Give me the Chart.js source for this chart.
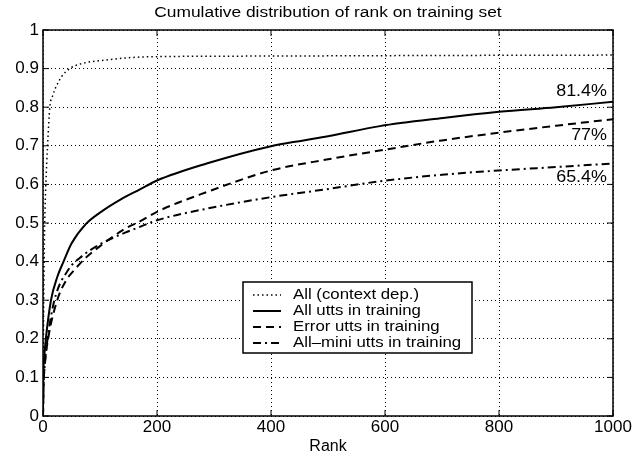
<!DOCTYPE html>
<html>
<head>
<meta charset="utf-8">
<script src="https://cdn.jsdelivr.net/npm/chart.js@4"></script>
<style>
  html, body { margin: 0; padding: 0; background: #fff; }
  #wrap { width: 644px; height: 452px; }
</style>
</head>
<body>
<div id="wrap"><canvas id="chartRank"></canvas></div>
<script>
// Data
const chartTitle = 'Cumulative distribution of rank on training set';
const xTicks = [0, 200, 400, 600, 800, 1000];
const yTicks = [0, 0.1, 0.2, 0.3, 0.4, 0.5, 0.6, 0.7, 0.8, 0.9, 1];

const seriesLabels = ['All (context dep.)', 'All utts in training', 'Error utts in training', 'All\u2013mini utts in training'];

const rankCtx = [0, 1, 2, 3, 5, 8, 12, 17, 22, 33, 47, 68, 103, 173, 300, 500, 700, 1000];
const cdfCtx  = [0, 0.25, 0.4, 0.5, 0.6, 0.7, 0.8, 0.83, 0.85, 0.88, 0.9, 0.913, 0.921, 0.93, 0.932, 0.933, 0.934, 0.935];

const rankAll = [0, 0.5, 2, 5, 14, 25, 36, 50, 75, 100, 135, 170, 200, 287, 400, 457, 500, 591, 702, 800, 900, 1000];
const cdfAll  = [0, 0.1, 0.15, 0.2, 0.3, 0.36, 0.4, 0.447, 0.497, 0.527, 0.56, 0.587, 0.61, 0.654, 0.699, 0.714, 0.725, 0.751, 0.772, 0.788, 0.8, 0.814];

const rankErr = [0, 1, 3, 9, 25, 40, 56, 75, 100, 144, 170, 200, 287, 400, 500, 600, 700, 800, 900, 1000];
const cdfErr  = [0, 0.08, 0.13, 0.2, 0.3, 0.35, 0.38, 0.41, 0.44, 0.485, 0.504, 0.529, 0.58, 0.636, 0.665, 0.69, 0.714, 0.734, 0.752, 0.769];

const rankMini = [0, 1, 3, 8, 20, 45, 65, 100, 144, 170, 200, 287, 400, 500, 591, 700, 800, 900, 1000];
const cdfMini  = [0, 0.08, 0.13, 0.2, 0.3, 0.38, 0.41, 0.445, 0.475, 0.49, 0.507, 0.537, 0.567, 0.588, 0.608, 0.625, 0.636, 0.645, 0.654];

const endLabels = ['81.4%', '77%', '65.4%'];
const endValues = [0.814, 0.769, 0.654];

const FONT = '"Liberation Sans", Arial, Helvetica, sans-serif';

function toPoints(xs, ys) {
    return xs.map((x, i) => ({ x: x, y: ys[i] }));
}

/**
 * Frame, inward ticks, title, end labels and legend box
 */
const decorPlugin = {
    id: 'decor',
    afterDraw(chart) {
        const ctx = chart.ctx;
        const area = chart.chartArea;
        const xs = chart.scales.x;
        const ys = chart.scales.y;
        const tick = 6;

        ctx.save();
        ctx.setLineDash([]);
        ctx.strokeStyle = '#000';
        ctx.lineWidth = 1.5;
        ctx.strokeRect(area.left, area.top, area.right - area.left, area.bottom - area.top);

        ctx.lineWidth = 1;
        ctx.beginPath();
        xTicks.forEach(v => {
            const px = xs.getPixelForValue(v);
            ctx.moveTo(px, area.bottom); ctx.lineTo(px, area.bottom - tick);
            ctx.moveTo(px, area.top); ctx.lineTo(px, area.top + tick);
        });
        yTicks.forEach(v => {
            const py = ys.getPixelForValue(v);
            ctx.moveTo(area.left, py); ctx.lineTo(area.left + tick, py);
            ctx.moveTo(area.right, py); ctx.lineTo(area.right - tick, py);
        });
        ctx.stroke();

        // text is a bit wider than tall in the reference
        const stretch = 1.12;
        const drawText = (txt, x, y, size, align) => {
            ctx.save();
            ctx.translate(x, y);
            ctx.scale(stretch, 1);
            ctx.font = `${size}px ${FONT}`;
            ctx.fillStyle = '#000';
            ctx.textAlign = align;
            ctx.textBaseline = 'middle';
            ctx.fillText(txt, 0, 0);
            ctx.restore();
        };

        drawText(chartTitle, (area.left + area.right) / 2, 13, 15.5, 'center');

        // labels at the end of each curve
        const endX = xs.getPixelForValue(1000) - 6;
        const offsets = [-10, 16, 14];
        endLabels.forEach((lbl, i) => {
            drawText(lbl, endX, ys.getPixelForValue(endValues[i]) + offsets[i], 16, 'right');
        });

        // legend
        const box = { left: 243, top: 282, width: 229, height: 71 };
        ctx.fillStyle = '#fff';
        ctx.fillRect(box.left, box.top, box.width, box.height);
        ctx.lineWidth = 1.5;
        ctx.strokeStyle = '#000';
        ctx.strokeRect(box.left, box.top, box.width, box.height);

        chart.data.datasets.forEach((ds, i) => {
            const cy = box.top + 13 + i * 16;
            ctx.save();
            ctx.strokeStyle = ds.borderColor;
            ctx.lineWidth = ds.borderWidth;
            ctx.setLineDash(ds.borderDash || []);
            ctx.beginPath();
            ctx.moveTo(box.left + 10, cy);
            ctx.lineTo(box.left + 38, cy);
            ctx.stroke();
            ctx.restore();
            drawText(ds.label, box.left + 50, cy, 15, 'left');
        });
        ctx.restore();
    }
};

const ctxCanvas = document.getElementById('chartRank').getContext('2d');
new Chart(ctxCanvas, {
    type: 'line',
    data: {
        datasets: [
            { label: seriesLabels[0], data: toPoints(rankCtx, cdfCtx), borderColor: '#000', borderWidth: 1.5, borderDash: [1.5, 3] },
            { label: seriesLabels[1], data: toPoints(rankAll, cdfAll), borderColor: '#000', borderWidth: 2 },
            { label: seriesLabels[2], data: toPoints(rankErr, cdfErr), borderColor: '#000', borderWidth: 2, borderDash: [8, 5] },
            { label: seriesLabels[3], data: toPoints(rankMini, cdfMini), borderColor: '#000', borderWidth: 2, borderDash: [8, 4, 2, 4] }
        ]
    },
    options: {
        responsive: true,
        maintainAspectRatio: false,
        animation: false,
        parsing: false,
        elements: { point: { radius: 0 }, line: { cubicInterpolationMode: 'monotone', fill: false } },
        layout: { padding: { left: 0, right: 31, top: 30, bottom: 0 } },
        plugins: {
            legend: { display: false },
            title: { display: false },
            tooltip: { enabled: false }
        },
        scales: {
            x: {
                type: 'linear',
                min: 0,
                max: 1000,
                afterBuildTicks: (scale) => { scale.ticks = xTicks.map(v => ({ value: v })); },
                afterFit: (scale) => { scale.height = 36; },
                ticks: { color: '#000', font: { family: FONT, size: 17 }, padding: 1, maxRotation: 0, callback: (v) => String(v) },
                grid: { color: '#000', lineWidth: 1, drawTicks: false },
                border: { display: false, dash: [1, 3] },
                title: { display: true, text: 'Rank', color: '#000', font: { family: FONT, size: 16 }, padding: { top: 0, bottom: -4 } }
            },
            y: {
                type: 'linear',
                min: 0,
                max: 1,
                afterBuildTicks: (scale) => { scale.ticks = yTicks.map(v => ({ value: v })); },
                afterFit: (scale) => { scale.width = 43; },
                ticks: { color: '#000', font: { family: FONT, size: 17 }, padding: 4, callback: (v) => String(v) },
                grid: { color: '#000', lineWidth: 1, drawTicks: false },
                border: { display: false, dash: [1, 3] }
            }
        }
    },
    plugins: [decorPlugin]
});
</script>
</body>
</html>
